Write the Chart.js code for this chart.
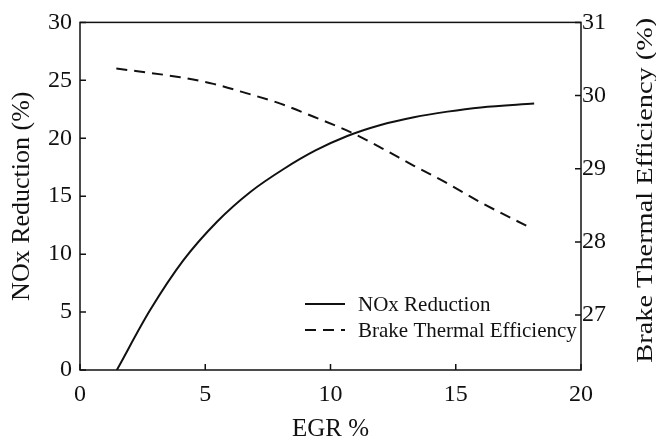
<!DOCTYPE html>
<html>
<head>
<meta charset="utf-8">
<script src="https://cdn.jsdelivr.net/npm/chart.js@4"></script>
<style>
  body { margin: 0; background: #fff; }
  #wrap { width: 656px; height: 441px; }
</style>
</head>
<body>
<div id="wrap"><canvas id="chart" width="656" height="441"></canvas></div>
<script>
// EGR % values
const egrNox = [1.47, 2.8, 4.13, 5.47, 6.8, 8.13, 9.4, 10.67, 12.0, 13.33, 14.67, 16.0, 18.13];
const noxReduction = [0, 5.17, 9.48, 12.8, 15.37, 17.35, 18.95, 20.2, 21.15, 21.82, 22.3, 22.66, 23.0];

const egrBte = [1.45, 4.0, 5.33, 6.67, 8.0, 9.33, 10.67, 12.0, 13.33, 14.67, 16.0, 18.0];
const brakeEff = [30.37, 30.25, 30.16, 30.03, 29.89, 29.71, 29.52, 29.29, 29.04, 28.80, 28.54, 28.19];

const xTicks = [0, 5, 10, 15, 20];
const leftTicks = [0, 5, 10, 15, 20, 25, 30];
const rightTicks = [27, 28, 29, 30, 31];

const FONT = "'Liberation Serif', 'Times New Roman', serif";
const INK = '#111';
const RIGHT_TITLE = 'Brake Thermal Efficiency (%)';

function toPoints(xs, ys) {
    return xs.map((x, i) => ({ x: x, y: ys[i] }));
}

// frame, inward tick marks, right title and the legend inside the plot
const framePlugin = {
    id: 'frame',
    afterDraw(chart) {
        const ctx = chart.ctx;
        const a = chart.chartArea;
        ctx.save();
        ctx.strokeStyle = INK;
        ctx.lineWidth = 1.5;
        ctx.setLineDash([]);
        ctx.strokeRect(a.left, a.top, a.right - a.left, a.bottom - a.top);

        const len = 6;
        const sx = chart.scales.x, sl = chart.scales.y, sr = chart.scales.y2;
        ctx.beginPath();
        sx.ticks.forEach(t => {
            const px = sx.getPixelForValue(t.value);
            ctx.moveTo(px, a.bottom); ctx.lineTo(px, a.bottom - len);
        });
        sl.ticks.forEach(t => {
            const py = sl.getPixelForValue(t.value);
            ctx.moveTo(a.left, py); ctx.lineTo(a.left + len, py);
        });
        sr.ticks.forEach(t => {
            const py = sr.getPixelForValue(t.value);
            ctx.moveTo(a.right, py); ctx.lineTo(a.right - len, py);
        });
        ctx.stroke();

        // right axis title reads bottom to top
        ctx.save();
        ctx.translate(646, (a.top + a.bottom) / 2 - 6);
        ctx.rotate(-Math.PI / 2);
        ctx.scale(1.09, 0.92);
        ctx.font = '26px ' + FONT;
        ctx.fillStyle = INK;
        ctx.textAlign = 'center';
        ctx.textBaseline = 'middle';
        ctx.fillText(RIGHT_TITLE, 0, 0);
        ctx.restore();

        // legend
        const lx = 305, ly = 304, gap = 26;
        ctx.font = '21px ' + FONT;
        ctx.fillStyle = INK;
        ctx.textBaseline = 'middle';
        chart.data.datasets.forEach((ds, i) => {
            const y = ly + i * gap;
            ctx.beginPath();
            ctx.lineWidth = ds.borderWidth;
            ctx.setLineDash(ds.borderDash || []);
            ctx.moveTo(lx, y); ctx.lineTo(lx + 40, y);
            ctx.stroke();
            ctx.setLineDash([]);
            ctx.fillText(ds.label, lx + 53, y + 1);
        });
        ctx.restore();
    }
};

const chart = new Chart(document.getElementById('chart'), {
    type: 'line',
    data: {
        datasets: [
            {
                label: 'NOx Reduction',
                data: toPoints(egrNox, noxReduction),
                yAxisID: 'y',
                borderColor: INK,
                borderWidth: 2,
                pointRadius: 0,
                cubicInterpolationMode: 'monotone',
                fill: false
            },
            {
                label: 'Brake Thermal Efficiency',
                data: toPoints(egrBte, brakeEff),
                yAxisID: 'y2',
                borderColor: INK,
                borderWidth: 2,
                borderDash: [11, 7],
                pointRadius: 0,
                cubicInterpolationMode: 'monotone',
                fill: false
            }
        ]
    },
    options: {
        responsive: false,
        animation: false,
        layout: { padding: { top: 22 } },
        plugins: { legend: { display: false }, tooltip: { enabled: false } },
        scales: {
            x: {
                type: 'linear',
                min: 0, max: 20,
                afterBuildTicks: s => { s.ticks = xTicks.map(v => ({ value: v })); },
                afterFit: s => { s.height = 71; },
                grid: { display: false, drawTicks: false },
                border: { display: false },
                ticks: { color: INK, font: { family: FONT, size: 24 }, padding: 10, maxRotation: 0 },
                title: { display: true, text: 'EGR %', color: INK, font: { family: FONT, size: 25 }, padding: { top: 0, bottom: -3 } }
            },
            y: {
                position: 'left',
                min: 0, max: 30,
                afterBuildTicks: s => { s.ticks = leftTicks.map(v => ({ value: v })); },
                afterFit: s => { s.width = 80; },
                grid: { display: false, drawTicks: false },
                border: { display: false },
                ticks: { color: INK, font: { family: FONT, size: 24 }, padding: 8 },
                title: { display: true, text: 'NOx Reduction (%)', color: INK, font: { family: FONT, size: 26 }, padding: { top: 7, bottom: 0 } }
            },
            y2: {
                position: 'right',
                min: 26.25, max: 31,
                afterBuildTicks: s => { s.ticks = rightTicks.map(v => ({ value: v })); },
                afterFit: s => { s.width = 75; },
                grid: { display: false, drawTicks: false },
                border: { display: false },
                ticks: { color: INK, font: { family: FONT, size: 24 }, padding: 1 },
                title: { display: false }
            }
        }
    },
    plugins: [framePlugin]
});
</script>
</body>
</html>
